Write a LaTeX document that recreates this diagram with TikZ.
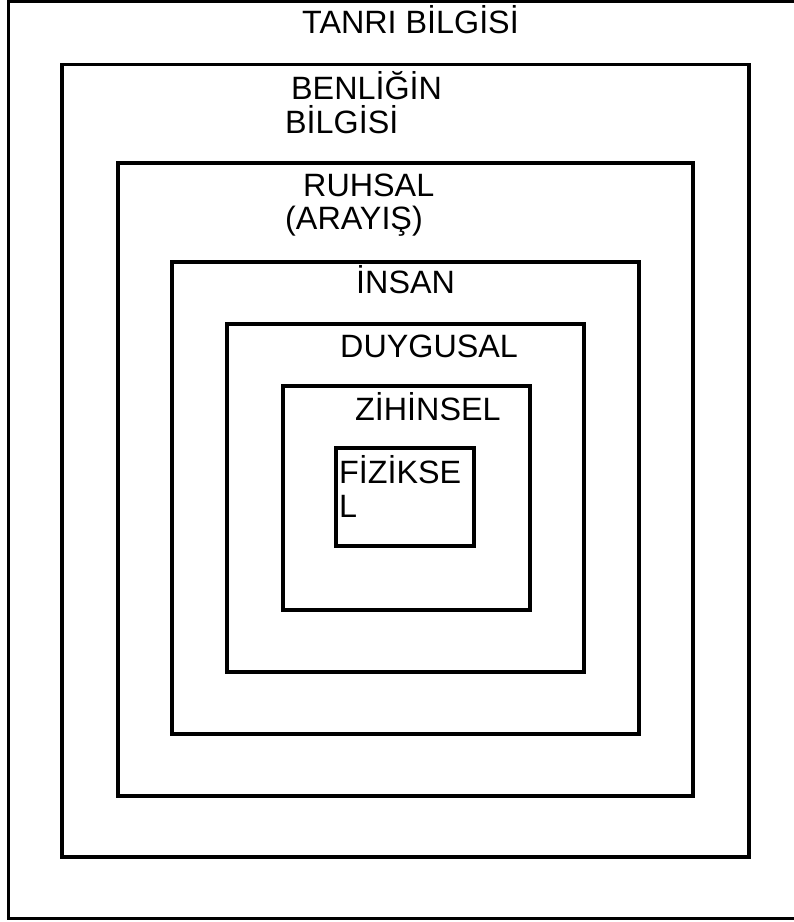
\documentclass[tikz,border=0pt]{standalone}
\usepackage{fontspec}
\setmainfont{Liberation Sans}
\usepackage{tikz}

\begin{document}
\begin{tikzpicture}[x=1pt,y=-1pt,
    frame/.style={draw=black,line width=3.8pt},
    tag/.style={anchor=base west,inner sep=0pt,align=left,
      font=\fontsize{32.3}{34}\selectfont}]

\useasboundingbox (0,0) rectangle (794,922);

% nested frames, outermost first
\draw[frame] (798,1.5) -- (8.5,1.5) -- (8.5,918.5) -- (798,918.5);
\draw[frame] (62,64.5) rectangle (749,857);
\draw[frame] (118,163) rectangle (693,796);
\draw[frame] (172,262) rectangle (639,734);
\draw[frame] (227,324) rectangle (584,672);
\draw[frame] (283,386) rectangle (530,610);
\draw[frame] (336,448) rectangle (474,546);

% two-line tags sit on the baseline of their last line
\node[tag] (tanri) at (302,33) {TANRI BİLGİSİ};
\node[tag] (benlik) at (285,133) {\hspace*{6pt}BENLİĞİN\\BİLGİSİ};
\node[tag] (ruhsal) at (303,196) {RUHSAL};
\node[tag] (arayis) at (285,229) {(ARAYIŞ)};
\node[tag] (insan) at (356,293) {İNSAN};
\node[tag] (duygusal) at (340,357) {DUYGUSAL};
\node[tag] (zihinsel) at (355,420) {ZİHİNSEL};
\node[tag] (fiziksel) at (339,517) {FİZİKSE\\L};
\end{tikzpicture}
\end{document}
